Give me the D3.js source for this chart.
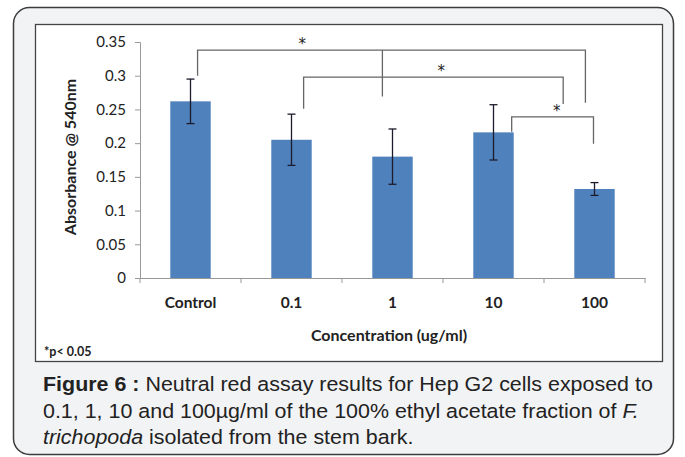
<!DOCTYPE html>
<html>
<head>
<meta charset="utf-8">
<script src="https://cdn.jsdelivr.net/npm/d3@7"></script>
<style>
  body { margin: 0; background: #fff; }
  svg { display: block; }
</style>
</head>
<body>
<div id="chart"></div>
<script>
// Data
const categories = ["Control", "0.1", "1", "10", "100"];
const absorbance = [0.262, 0.205, 0.180, 0.216, 0.132];
const errors = [0.033, 0.038, 0.041, 0.041, 0.0095];
const yTicks = [0, 0.05, 0.1, 0.15, 0.2, 0.25, 0.3, 0.35];

// Significance brackets: ends given as category + offset (in bands), heights in data units
const brackets = [
  { from: "Control", fromOff: 0.07, to: "100", toOff: -0.09, level: 0.338, leftEnd: 0.300, rightEnd: 0.260, mid: "1", midOff: -0.10, midEnd: 0.269, star: 0.27 },
  { from: "0.1", fromOff: 0.12, to: "100", toOff: -0.31, level: 0.298, leftEnd: 0.251, rightEnd: 0.258, star: 0.53 },
  { from: "10", fromOff: 0.18, to: "100", toOff: -0.01, level: 0.239, leftEnd: 0.217, rightEnd: 0.199, star: 0.55 }
];

const W = 685, H = 457;
const labelFont = "Lato, 'Open Sans', sans-serif";

const svg = d3.select("#chart").append("svg")
  .attr("width", W)
  .attr("height", H);

// Outer rounded frame
svg.append("rect")
  .attr("x", 13.5).attr("y", 7.5)
  .attr("width", 660).attr("height", 447)
  .attr("rx", 16)
  .attr("fill", "#f2f3f5")
  .attr("stroke", "#3c3c3c")
  .attr("stroke-width", 1.5);

// Inner chart frame
svg.append("rect")
  .attr("x", 35.5).attr("y", 24.5)
  .attr("width", 627).attr("height", 337)
  .attr("fill", "#fff")
  .attr("stroke", "#444")
  .attr("stroke-width", 1.3);

const x = d3.scaleBand()
  .domain(categories)
  .range([140, 645])
  .padding(0);

const y = d3.scaleLinear()
  .domain([0, 0.35])
  .range([278, 42]);

const g = svg.append("g");

// Y axis
const yAxis = g.append("g")
  .attr("transform", "translate(140,0)")
  .call(d3.axisLeft(y).tickValues(yTicks).tickSize(5).tickFormat(d => d === 0 ? "0" : String(d)));
yAxis.select(".domain").attr("stroke", "#999");
yAxis.selectAll(".tick line").attr("stroke", "#999");
yAxis.selectAll(".tick text")
  .attr("x", -14)
  .attr("font-family", labelFont)
  .attr("font-size", 15)
  .attr("fill", "#222");

// X axis with ticks between categories
const xAxis = g.append("g")
  .attr("transform", "translate(0,278)")
  .call(d3.axisBottom(x).tickSize(0).tickSizeOuter(0));
xAxis.select(".domain").attr("stroke", "#999");
xAxis.selectAll(".tick text")
  .attr("y", 19)
  .attr("font-family", labelFont)
  .attr("font-weight", "bold")
  .attr("font-size", 15.5)
  .attr("fill", "#222");
xAxis.selectAll(".sep")
  .data(categories.concat(["end"]))
  .enter().append("line")
  .attr("class", "sep")
  .attr("x1", (d, i) => i < categories.length ? x(d) : x.range()[1])
  .attr("x2", (d, i) => i < categories.length ? x(d) : x.range()[1])
  .attr("y1", 0).attr("y2", 5)
  .attr("stroke", "#999");

// Bars
const barW = x.bandwidth() * 0.4;
const cx = d => x(d) + x.bandwidth() / 2;
g.selectAll(".bar")
  .data(categories)
  .enter().append("rect")
  .attr("class", "bar")
  .attr("x", d => cx(d) - barW / 2)
  .attr("y", (d, i) => y(absorbance[i]))
  .attr("width", barW)
  .attr("height", (d, i) => y(0) - y(absorbance[i]))
  .attr("fill", "#4f81bd");

// Error bars
const eb = g.selectAll(".err")
  .data(categories)
  .enter().append("g")
  .attr("class", "err")
  .attr("stroke", "#1c1c2c")
  .attr("stroke-width", 1.3);
eb.append("line")
  .attr("x1", cx).attr("x2", cx)
  .attr("y1", (d, i) => y(absorbance[i] + errors[i]))
  .attr("y2", (d, i) => y(absorbance[i] - errors[i]));
eb.append("line")
  .attr("x1", d => cx(d) - 4).attr("x2", d => cx(d) + 4)
  .attr("y1", (d, i) => y(absorbance[i] + errors[i]))
  .attr("y2", (d, i) => y(absorbance[i] + errors[i]));
eb.append("line")
  .attr("x1", d => cx(d) - 4).attr("x2", d => cx(d) + 4)
  .attr("y1", (d, i) => y(absorbance[i] - errors[i]))
  .attr("y2", (d, i) => y(absorbance[i] - errors[i]));

// Significance brackets
const bx = (cat, off) => cx(cat) + off * x.bandwidth();
brackets.forEach(b => {
  const x1 = bx(b.from, b.fromOff), x2 = bx(b.to, b.toOff);
  const path = d3.path();
  path.moveTo(x1, y(b.leftEnd));
  path.lineTo(x1, y(b.level));
  path.lineTo(x2, y(b.level));
  path.lineTo(x2, y(b.rightEnd));
  if (b.mid) {
    const xm = bx(b.mid, b.midOff);
    path.moveTo(xm, y(b.level));
    path.lineTo(xm, y(b.midEnd));
  }
  g.append("path")
    .attr("d", path.toString())
    .attr("fill", "none")
    .attr("stroke", "#666")
    .attr("stroke-width", 1.3);
  g.append("text")
    .attr("x", x1 + (x2 - x1) * b.star)
    .attr("y", y(b.level) - 1)
    .attr("text-anchor", "middle")
    .attr("font-family", "'DejaVu Sans', sans-serif")
    .attr("font-size", 15)
    .attr("fill", "#222")
    .text("*");
});

// Axis titles
svg.append("text")
  .attr("transform", "rotate(-90)")
  .attr("x", -157)
  .attr("y", 76)
  .attr("text-anchor", "middle")
  .attr("font-family", labelFont)
  .attr("font-weight", "bold")
  .attr("font-size", 16)
  .attr("fill", "#222")
  .text("Absorbance @ 540nm");

svg.append("text")
  .attr("x", 389)
  .attr("y", 341)
  .attr("text-anchor", "middle")
  .attr("font-family", labelFont)
  .attr("font-weight", "bold")
  .attr("font-size", 16)
  .attr("fill", "#222")
  .text("Concentration (ug/ml)");

svg.append("text")
  .attr("x", 44)
  .attr("y", 356)
  .attr("font-family", labelFont)
  .attr("font-weight", "bold")
  .attr("font-size", 12.5)
  .attr("fill", "#222")
  .text("*p< 0.05");

// Caption, stretched horizontally so the first line spans like the original
const cap = svg.append("g")
  .attr("font-family", "'Liberation Sans', Arial, sans-serif")
  .attr("font-size", 19.5)
  .attr("fill", "#222");
const l1 = cap.append("text").attr("x", 0).attr("y", 391);
l1.append("tspan").attr("font-weight", "bold").text("Figure 6 :");
l1.append("tspan").text(" Neutral red assay results for Hep G2 cells exposed to");
const l2 = cap.append("text").attr("x", 0).attr("y", 418);
l2.append("tspan").text("0.1, 1, 10 and 100µg/ml of the 100% ethyl acetate fraction of ");
l2.append("tspan").attr("font-style", "italic").text("F.");
const l3 = cap.append("text").attr("x", 0).attr("y", 444);
l3.append("tspan").attr("font-style", "italic").text("trichopoda");
l3.append("tspan").text(" isolated from the stem bark.");
const line1W = l1.node().getComputedTextLength();
const sx = 610 / line1W;
cap.attr("transform", `translate(43,0) scale(${sx},1)`);
</script>
</body>
</html>
